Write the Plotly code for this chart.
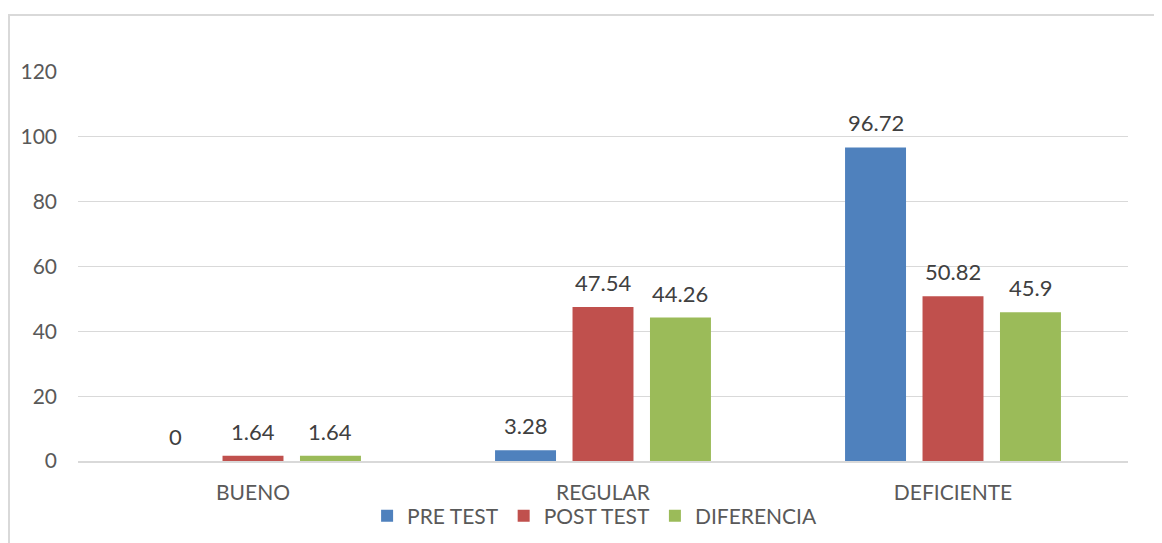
import plotly.graph_objects as go

categories = ["BUENO", "REGULAR", "DEFICIENTE"]
pre_test = [0, 3.28, 96.72]
post_test = [1.64, 47.54, 50.82]
diferencia = [1.64, 44.26, 45.9]
series_names = ["PRE TEST", "POST TEST", "DIFERENCIA"]
colors = ["#4F81BD", "#C0504D", "#9BBB59"]
y_ticks = [0, 20, 40, 60, 80, 100, 120]

FONT = "Lato, 'Open Sans', sans-serif"

# page has an 8px body margin, so figure origin is at (8, 8) of the viewport
W, H = 1154, 535
L, T = 70, 64
pw = 1050
ph = 389
R = W - L - pw
B = H - T - ph

BARGAP = 0.336
GROUPGAP = 0.213
slot = pw / len(categories) * (1 - BARGAP) / len(series_names)

fig = go.Figure()
annotations = []
for i, (name, vals, col) in enumerate(zip(series_names, [pre_test, post_test, diferencia], colors)):
    fig.add_trace(go.Bar(
        x=categories, y=vals, name=name, marker=dict(color=col, line=dict(width=0)),
    ))
    for c, v in zip(categories, vals):
        annotations.append(dict(
            x=c, y=v, xref="x", yref="y", text=f"{v:g}", showarrow=False,
            xanchor="center", yanchor="bottom", xshift=(i - 1) * slot, yshift=9,
            font=dict(size=22, color="#404040", family=FONT),
        ))

fig.update_layout(
    width=W, height=H,
    margin=dict(l=L, r=R, t=T, b=B, autoexpand=False),
    paper_bgcolor="white", plot_bgcolor="white",
    barmode="group", bargap=BARGAP, bargroupgap=GROUPGAP,
    font=dict(family=FONT, color="#595959", size=21),
    showlegend=True,
    legend=dict(orientation="h", x=0.492, xanchor="center", y=-(516 - 461) / ph, yanchor="middle",
                bgcolor="rgba(0,0,0,0)",
                font=dict(size=21, color="#595959"), itemwidth=30, traceorder="normal"),
    xaxis=dict(showgrid=False, showline=True, linecolor="#D9D9D9", linewidth=2,
               ticks="", tickfont=dict(size=21, color="#595959"), ticklabelstandoff=12),
    yaxis=dict(range=[0, 120], tickvals=y_ticks, showgrid=True, gridcolor="#D9D9D9", gridwidth=1,
               zeroline=False, showline=False, ticks="", ticklabelstandoff=20,
               tickfont=dict(size=21, color="#595959")),
    annotations=annotations,
    shapes=[dict(type="rect", xref="paper", yref="paper",
                 x0=(1 - L) / pw, x1=(W + 20 - L) / pw,
                 y0=-(B + 20) / ph, y1=1 + (T - 7) / ph,
                 line=dict(color="#D9D9D9", width=2), fillcolor="rgba(0,0,0,0)", layer="below")],
)

fig.write_html("out.html")
